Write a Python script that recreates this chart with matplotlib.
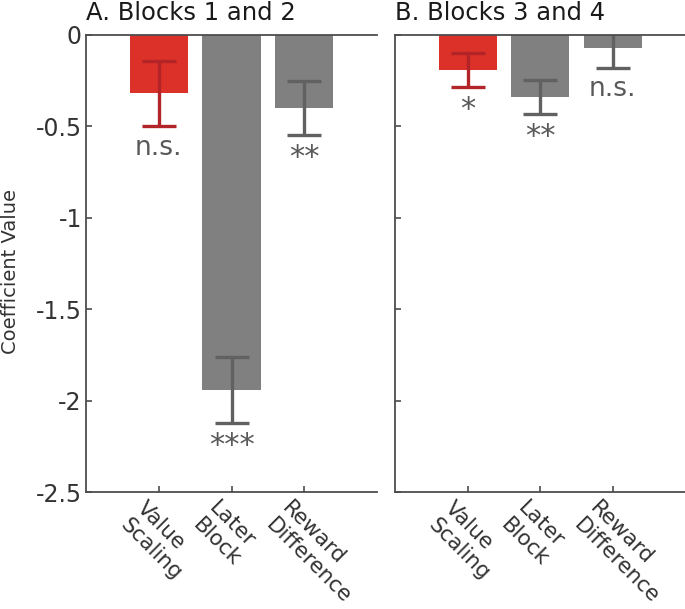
import numpy as np
import matplotlib.pyplot as plt
from matplotlib.transforms import ScaledTranslation

# datos
categorias = ['Value\nScaling', 'Later\nBlock', 'Reward\nDifference']
coef_12 = [-0.32, -1.94, -0.40]
err_12 = [0.18, 0.18, 0.146]
sig_12 = ['n.s.', '***', '**']
coef_34 = [-0.19, -0.34, -0.073]
err_34 = [0.093, 0.092, 0.107]
sig_34 = ['*', '**', 'n.s.']
titulos = ['A. Blocks 1 and 2', 'B. Blocks 3 and 4']
yticks = [0, -0.5, -1, -1.5, -2, -2.5]
ytick_labels = ['0', '-0.5', '-1', '-1.5', '-2', '-2.5']

col_barra = ['#DC3128', '#808080', '#808080']
col_err = ['#B22427', '#616161', '#616161']
col_eje = '#4d4d4d'
col_txt = '#333333'

plt.rcParams['font.family'] = ['DejaVu Sans']

fig = plt.figure(figsize=(6.85, 6.09), dpi=100)
ax1 = fig.add_axes([86/685, 1-492/609, 291/685, 457/609])
ax2 = fig.add_axes([395/685, 1-492/609, 290/685, 457/609])

x = np.arange(1, len(categorias) + 1)

for ax, coef, err, sig, tit in [(ax1, coef_12, err_12, sig_12, titulos[0]),
                                (ax2, coef_34, err_34, sig_34, titulos[1])]:
    ax.bar(x, coef, width=0.8, color=col_barra, edgecolor='none', zorder=1)
    for i in range(len(x)):
        ax.errorbar(x[i], coef[i], yerr=err[i], fmt='none', ecolor=col_err[i],
                    elinewidth=2.4, capsize=12, capthick=2.4, zorder=2)
        # los asteriscos se ven mas grandes en el original
        fs = 22 if '*' in sig[i] else 19
        ax.annotate(sig[i], (x[i], coef[i] - err[i]), xytext=(0, -6),
                    textcoords='offset points', ha='center', va='top',
                    fontsize=fs, color='#595959')
    ax.set_xlim(0, 4)
    ax.set_ylim(-2.5, 0)
    ax.set_yticks(yticks)
    ax.set_xticks(x)
    ax.tick_params(axis='both', direction='in', length=4, width=1.2,
                   color=col_eje, pad=0)
    ax.tick_params(axis='y', pad=3)
    ax.set_xticklabels(categorias, rotation=-45, ha='left', va='top',
                       rotation_mode='anchor', multialignment='left',
                       fontsize=15.5, color=col_txt, linespacing=1.2)
    for lab in ax.get_xticklabels():
        lab.set_transform(lab.get_transform() +
                          ScaledTranslation(-0.12, -0.06, fig.dpi_scale_trans))
    ax.spines['right'].set_visible(False)
    for s in ['left', 'top', 'bottom']:
        ax.spines[s].set_color(col_eje)
        ax.spines[s].set_linewidth(1.3)
    ax.set_title(tit, loc='left', fontsize=17.5, pad=11, color='#1a1a1a')

ax1.set_yticklabels(ytick_labels, fontsize=17, color=col_txt)
ax2.set_yticklabels([])
ax1.set_ylabel('Coefficient Value', fontsize=14, color=col_txt)
ax1.yaxis.set_label_coords(-0.227, 0.483)

fig.savefig('out.png', dpi=100)
